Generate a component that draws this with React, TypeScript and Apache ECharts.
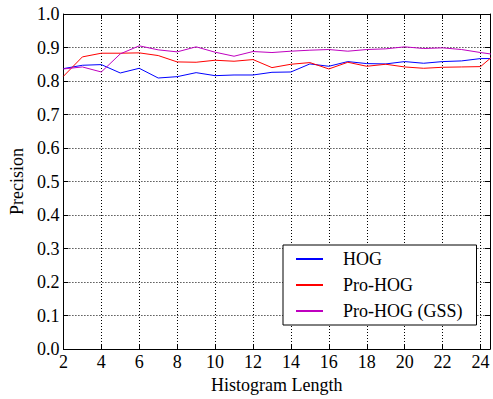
import React, { useEffect, useRef } from "react";
import * as echarts from "echarts";

const lengths = [2, 3, 4, 5, 6, 7, 8, 9, 10, 11, 12, 13, 14, 15, 16, 17, 18, 19, 20, 21, 22, 23, 24, 25];
const hog = [0.837, 0.847, 0.849, 0.824, 0.838, 0.809, 0.813, 0.825, 0.816, 0.818, 0.818, 0.826, 0.827, 0.851, 0.844, 0.858, 0.852, 0.851, 0.858, 0.853, 0.858, 0.860, 0.867, 0.867];
const proHog = [0.814, 0.872, 0.883, 0.883, 0.884, 0.876, 0.857, 0.856, 0.862, 0.859, 0.864, 0.840, 0.850, 0.855, 0.836, 0.856, 0.844, 0.850, 0.842, 0.838, 0.841, 0.842, 0.843, 0.891];
const proHogGss = [0.836, 0.842, 0.827, 0.881, 0.905, 0.893, 0.887, 0.902, 0.886, 0.874, 0.888, 0.885, 0.889, 0.892, 0.894, 0.889, 0.894, 0.896, 0.902, 0.897, 0.899, 0.894, 0.885, 0.877];
const seriesNames = ["HOG", "Pro-HOG", "Pro-HOG (GSS)"];
const seriesColors = ["#0000ff", "#ff0000", "#bf00bf"];

const FONT = "Liberation Serif";

export default function App() {
  const ref = useRef<HTMLDivElement>(null);
  useEffect(() => {
    document.body.style.margin = "0";
    const chart = echarts.init(ref.current!, null, { renderer: "svg" });
    const values = [hog, proHog, proHogGss];
    const axisLine = { show: true, onZero: false, lineStyle: { color: "#000", width: 1 } };
    const tick = { show: true, inside: true, length: 5, lineStyle: { color: "#000" } };
    const split = { show: true, lineStyle: { type: [1, 2], color: "#000", width: 1 } };
    chart.setOption({
      animation: false,
      backgroundColor: "#fff",
      grid: { left: 62, top: 14, right: 3, bottom: 47, containLabel: false },
      legend: {
        orient: "vertical",
        left: 283,
        top: 245,
        data: seriesNames,
        itemWidth: 27,
        itemHeight: 2,
        itemGap: 8,
        padding: [5, 14, 5, 13],
        borderColor: "#000",
        borderWidth: 1,
        backgroundColor: "#fff",
        icon: "rect",
        textStyle: { fontFamily: FONT, fontSize: 18, color: "#000", padding: [0, 0, 0, 15] },
      },
      xAxis: [
        {
          type: "value",
          min: 2,
          max: 24.5,
          interval: 2,
          position: "bottom",
          axisLine,
          axisTick: tick,
          splitLine: split,
          axisLabel: {
            fontFamily: FONT,
            fontSize: 18,
            color: "#000",
            margin: 4,
            showMaxLabel: false,
            formatter: (v: number) => (v % 2 === 0 ? String(v) : ""),
          },
          name: "Histogram Length",
          nameLocation: "middle",
          nameGap: 22,
          nameTextStyle: { fontFamily: FONT, fontSize: 18, color: "#000" },
        },
        {
          type: "value",
          min: 2,
          max: 24.5,
          interval: 2,
          position: "top",
          axisLine,
          axisTick: tick,
          splitLine: { show: false },
          axisLabel: { show: false },
        },
      ],
      yAxis: [
        {
          type: "value",
          min: 0,
          max: 1,
          interval: 0.1,
          position: "left",
          axisLine,
          axisTick: tick,
          splitLine: split,
          axisLabel: {
            fontFamily: FONT,
            fontSize: 18,
            color: "#000",
            margin: 4,
            formatter: (v: number) => v.toFixed(1),
          },
          name: "Precision",
          nameLocation: "middle",
          nameGap: 33,
          nameRotate: 90,
          nameTextStyle: { fontFamily: FONT, fontSize: 18, color: "#000" },
        },
        {
          type: "value",
          min: 0,
          max: 1,
          interval: 0.1,
          position: "right",
          axisLine,
          axisTick: tick,
          splitLine: { show: false },
          axisLabel: { show: false },
        },
      ],
      series: seriesNames.map((name, i) => ({
        name,
        type: "line",
        xAxisIndex: 0,
        yAxisIndex: 0,
        clip: true,
        showSymbol: false,
        symbol: "none",
        color: seriesColors[i],
        lineStyle: { color: seriesColors[i], width: 1 },
        data: lengths.map((x, j) => [x, values[i][j]]),
      })),
    });
    return () => chart.dispose();
  }, []);
  return <div ref={ref} style={{ width: 493, height: 399 }} />;
}
